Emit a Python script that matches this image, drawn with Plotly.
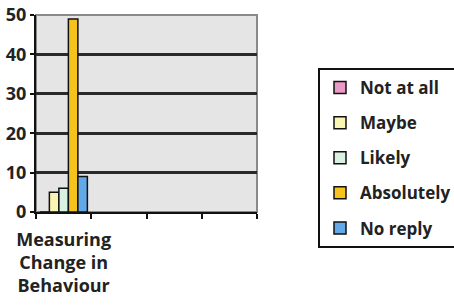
import plotly.graph_objects as go

categories = ["Measuring<br>Change in<br>Behaviour", " ", "  ", "   "]
series_names = ["Not at all", "Maybe", "Likely", "Absolutely", "No reply"]
series_values = [0, 5, 6, 49, 9]
series_colors = ["#e99ac6", "#fbf5b4", "#d9f1e3", "#f6c21c", "#62a9ea"]
y_ticks = [0, 10, 20, 30, 40, 50]

FONT = "Open Sans"
TXT = "#222222"

L, R, T, B = 36, 197, 15, 93
W, H = 454, 305
PW, PH = W - L - R, H - T - B

fig = go.Figure()
for i, (name, val, col) in enumerate(zip(series_names, series_values, series_colors)):
    fig.add_trace(go.Bar(
        x=[categories[0]], y=[val], name=name,
        marker=dict(color=col, line=dict(color="#111111", width=1.5)),
        legendgroup=f"g{i}",
    ))

fig.update_layout(
    width=W, height=H,
    margin=dict(l=L, r=R, t=T, b=B, autoexpand=False),
    paper_bgcolor="white",
    plot_bgcolor="#e5e5e5",
    barmode="group",
    bargap=0.14,
    bargroupgap=0.0,
    font=dict(family=FONT, color=TXT),
    legend=dict(
        x=(318 - L) / PW, y=(H - B - 68) / PH, xanchor="left", yanchor="top",
        bordercolor="#111111", borderwidth=2, bgcolor="white",
        font=dict(family=FONT, size=17, color=TXT, weight="bold"),
        tracegroupgap=10,
        itemwidth=30,
    ),
    xaxis=dict(
        type="category", categoryorder="array", categoryarray=categories,
        range=[-0.5, 3.5], tickangle=0, automargin=False,
        tickson="boundaries", ticks="outside", ticklen=5, tickcolor="#111111", tickwidth=1.5,
        ticklabelstandoff=10,
        showline=True, linecolor="#111111", linewidth=2,
        showgrid=False,
        tickfont=dict(family=FONT, size=18, color=TXT, weight="bold"),
    ),
    yaxis=dict(
        range=[0, 50], tickvals=y_ticks, automargin=False,
        ticks="outside", ticklen=4, tickcolor="#111111", tickwidth=1.5,
        ticklabelstandoff=0,
        showline=True, linecolor="#111111", linewidth=2,
        showgrid=True, gridcolor="#2a2a2a", gridwidth=2.5,
        zeroline=False,
        tickfont=dict(family=FONT, size=18, color=TXT, weight="bold"),
    ),
)
# plot frame (top and right wall edges)
fig.add_shape(type="rect", xref="paper", yref="paper", x0=0, y0=0, x1=1, y1=1,
              line=dict(color="#8a8a8a", width=2), layer="below")

fig.write_html(
    "out.html",
    config={"displayModeBar": False},
    post_script="document.body.style.margin='0';document.body.style.overflow='hidden';",
)
